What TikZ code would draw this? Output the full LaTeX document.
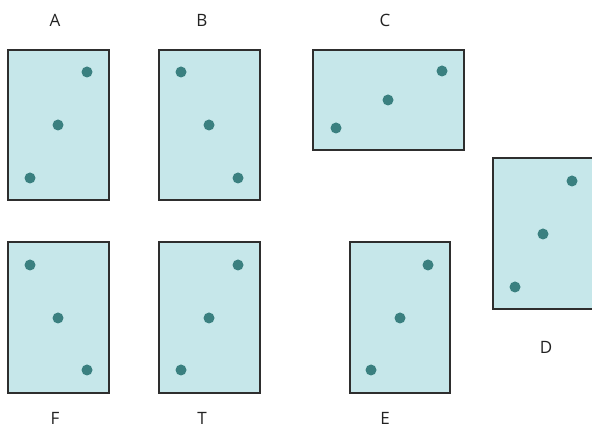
\documentclass[tikz,border=0pt]{standalone}
\usepackage{fontspec}
\setmainfont{Open Sans}
\definecolor{boxfill}{HTML}{C6E7EA}
\definecolor{dotc}{HTML}{3A8080}
\definecolor{edgec}{HTML}{2E2E2E}
\definecolor{txt}{HTML}{222222}
\begin{document}
\begin{tikzpicture}[x=1pt,y=-1pt,
  panel/.style={draw=edgec,fill=boxfill,line width=1.5pt},
  pt/.style={circle,fill=dotc,inner sep=0pt,minimum size=11pt},
  lbl/.style={anchor=base,text=txt,font=\fontsize{17}{20}\selectfont,inner sep=0pt,text depth=0pt}]
\useasboundingbox (0,0) rectangle (592,427);
\clip (0,0) rectangle (592,427);
% A
\draw[panel] (8,50) rectangle (109,200);
\node[pt] (a1) at (87,72) {};
\node[pt] (a2) at (58,125) {};
\node[pt] (a3) at (30,178) {};
\node[lbl] (la) at (55,27) {A};
% B
\draw[panel] (159,50) rectangle (260,200);
\node[pt] (b1) at (181,72) {};
\node[pt] (b2) at (209,125) {};
\node[pt] (b3) at (238,178) {};
\node[lbl] (lb) at (202,27) {B};
% C
\draw[panel] (313,50) rectangle (464,150);
\node[pt] (c1) at (442,71) {};
\node[pt] (c2) at (388,100) {};
\node[pt] (c3) at (336,128) {};
\node[lbl] (lc) at (385,27) {C};
% D
\draw[panel] (493,158) rectangle (596,309);
\node[pt] (d1) at (572,181) {};
\node[pt] (d2) at (543,234) {};
\node[pt] (d3) at (515,287) {};
\node[lbl] (ld) at (546,354) {D};
% F
\draw[panel] (8,242) rectangle (109,393);
\node[pt] (f1) at (30,265) {};
\node[pt] (f2) at (58,318) {};
\node[pt] (f3) at (87,370) {};
\node[lbl] (lf) at (55,425) {F};
% T
\draw[panel] (159,242) rectangle (260,393);
\node[pt] (t1) at (238,265) {};
\node[pt] (t2) at (209,318) {};
\node[pt] (t3) at (181,370) {};
\node[lbl] (lt) at (202,425) {T};
% E
\draw[panel] (350,242) rectangle (450,393);
\node[pt] (e1) at (428,265) {};
\node[pt] (e2) at (400,318) {};
\node[pt] (e3) at (371,370) {};
\node[lbl] (le) at (385,425) {E};
\end{tikzpicture}
\end{document}
